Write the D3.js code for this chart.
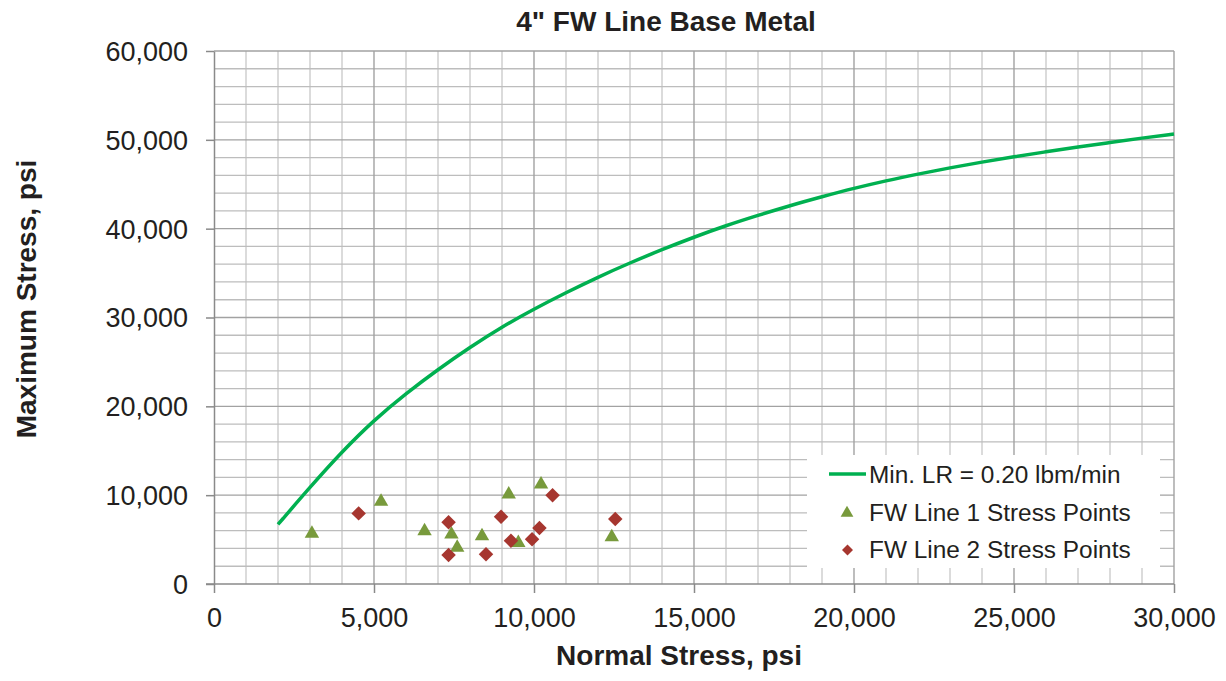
<!DOCTYPE html>
<html>
<head>
<meta charset="utf-8">
<script src="https://cdn.jsdelivr.net/npm/d3@7"></script>
<style>
  html, body { margin: 0; padding: 0; background: #fff; }
  svg { display: block; font-family: "Liberation Sans", Arial, Helvetica, sans-serif; }
</style>
</head>
<body>
<svg id="chart" width="1226" height="681"></svg>
<script>
// ---- Data ----
const curveX = [2000, 3000, 4000, 5000, 6000, 7000, 8000, 9000, 10000, 11000, 12000, 13000, 14000, 15000,
  16000, 17000, 18000, 19000, 20000, 21000, 22000, 23000, 24000, 25000, 26000, 27000, 28000, 29000, 30000];
const curveY = [6700, 10900, 14900, 18450, 21450, 24150, 26650, 28950, 30950, 32800, 34550, 36150, 37650, 39050,
  40350, 41500, 42600, 43600, 44550, 45400, 46150, 46850, 47500, 48100, 48650, 49200, 49700, 50200, 50650];

const line1X = [3060, 5220, 6580, 7420, 7600, 8375, 9210, 9510, 10220, 12430];
const line1Y = [5800, 9400, 6070, 5700, 4200, 5500, 10200, 4760, 11330, 5400];

const line2X = [4520, 7330, 7330, 8500, 8970, 9280, 9940, 10170, 10580, 12540];
const line2Y = [7950, 6940, 3260, 3340, 7570, 4870, 5030, 6300, 9980, 7310];

const xTicks = [0, 5000, 10000, 15000, 20000, 25000, 30000];
const yTicks = [0, 10000, 20000, 30000, 40000, 50000, 60000];

const seriesNames = ["Min. LR = 0.20 lbm/min", "FW Line 1 Stress Points", "FW Line 2 Stress Points"];
const titleText = "4\" FW Line Base Metal";
const xTitle = "Normal Stress, psi";
const yTitle = "Maximum Stress, psi";

// ---- Setup ----
const svg = d3.select("#chart");
const x = d3.scaleLinear().domain([0, 30000]).range([214, 1174]);
const y = d3.scaleLinear().domain([0, 60000]).range([584, 51]);
const fmt = d3.format(",");
const textColor = "#231f20";

const green = "#00b050", olive = "#789a3c", red = "#a6362f";

// ---- Gridlines ----
const grid = svg.append("g");
const xMinor = d3.range(1000, 30001, 1000).filter(v => v % 5000 !== 0);
const yMinor = d3.range(2000, 60001, 2000).filter(v => v % 10000 !== 0);
grid.selectAll(".xm").data(xMinor).join("line")
  .attr("x1", d => x(d)).attr("x2", d => x(d)).attr("y1", y(0)).attr("y2", y(60000))
  .attr("stroke", "#c8c8c8").attr("stroke-width", 1.3);
grid.selectAll(".ym").data(yMinor).join("line")
  .attr("x1", x(0)).attr("x2", x(30000)).attr("y1", d => y(d)).attr("y2", d => y(d))
  .attr("stroke", "#bdbdbd").attr("stroke-width", 1.3);
grid.selectAll(".xM").data(xTicks.filter(v => v > 0)).join("line")
  .attr("x1", d => x(d)).attr("x2", d => x(d)).attr("y1", y(0)).attr("y2", y(60000))
  .attr("stroke", "#a2a2a2").attr("stroke-width", 1.4);
grid.selectAll(".yM").data(yTicks.filter(v => v > 0)).join("line")
  .attr("x1", x(0)).attr("x2", x(30000)).attr("y1", d => y(d)).attr("y2", d => y(d))
  .attr("stroke", "#a2a2a2").attr("stroke-width", 1.4);

// ---- Axes ----
const xAxis = svg.append("g").attr("transform", `translate(0,${y(0)})`)
  .call(d3.axisBottom(x).tickValues(xTicks).tickFormat(fmt).tickSize(9).tickSizeOuter(0));
const yAxis = svg.append("g").attr("transform", `translate(${x(0)},0)`)
  .call(d3.axisLeft(y).tickValues(yTicks).tickFormat(fmt).tickSize(8).tickSizeOuter(0));
[xAxis, yAxis].forEach(a => {
  a.select(".domain").attr("stroke", "#8a8a8a").attr("stroke-width", 1.5);
  a.selectAll(".tick line").attr("stroke", "#8a8a8a").attr("stroke-width", 1.5);
  a.selectAll(".tick text").attr("fill", textColor).attr("font-size", 27)
    .attr("font-family", "'Liberation Sans', Arial, sans-serif");
});
xAxis.select(".domain").attr("d", `M${x(0) - 8},0H${x(30000)}`);
xAxis.selectAll(".tick text").attr("y", 24).attr("dy", "0.71em");
yAxis.selectAll(".tick text").attr("x", -26).attr("dy", "0.35em");

// ---- Curve ----
const curvePts = curveX.map((v, i) => [v, curveY[i]]);
svg.append("path").datum(curvePts)
  .attr("d", d3.line().x(d => x(d[0])).y(d => y(d[1])).curve(d3.curveBasis))
  .attr("fill", "none").attr("stroke", green).attr("stroke-width", 3.5);

// ---- Markers ----
const tri = d3.symbol().type(d3.symbolTriangle).size(90);
const dia = d3.symbol().type(d3.symbolSquare).size(105);
svg.append("g").selectAll("path").data(line1X.map((v, i) => [v, line1Y[i]])).join("path")
  .attr("d", tri).attr("transform", d => `translate(${x(d[0])},${y(d[1]) + 1})`)
  .attr("fill", olive);
svg.append("g").selectAll("path").data(line2X.map((v, i) => [v, line2Y[i]])).join("path")
  .attr("d", dia).attr("transform", d => `translate(${x(d[0])},${y(d[1])}) rotate(45)`)
  .attr("fill", red);

// ---- Legend ----
const lg = svg.append("g");
lg.append("rect").attr("x", 807).attr("y", 455).attr("width", 353).attr("height", 113).attr("fill", "#fff");
const legendRows = [483, 521, 558];
lg.append("line").attr("x1", 829).attr("x2", 866).attr("y1", 474).attr("y2", 474)
  .attr("stroke", green).attr("stroke-width", 3.5);
lg.append("path").attr("d", d3.symbol().type(d3.symbolTriangle).size(70))
  .attr("transform", "translate(847,513)").attr("fill", olive);
lg.append("path").attr("d", d3.symbol().type(d3.symbolSquare).size(60))
  .attr("transform", "translate(847.5,550) rotate(45)").attr("fill", red);
lg.selectAll("text").data(seriesNames).join("text")
  .attr("x", 869).attr("y", (d, i) => legendRows[i])
  .attr("font-size", 24.4).attr("fill", textColor).text(d => d);

// ---- Titles ----
svg.append("text").attr("x", 666).attr("y", 31).attr("text-anchor", "middle")
  .attr("font-size", 28).attr("font-weight", "bold").attr("fill", textColor).text(titleText);
svg.append("text").attr("x", 679).attr("y", 665).attr("text-anchor", "middle")
  .attr("font-size", 28).attr("font-weight", "bold").attr("fill", textColor).text(xTitle);
svg.append("text").attr("transform", "translate(36,299) rotate(-90)").attr("text-anchor", "middle")
  .attr("font-size", 28).attr("font-weight", "bold").attr("fill", textColor).text(yTitle);
</script>
</body>
</html>
